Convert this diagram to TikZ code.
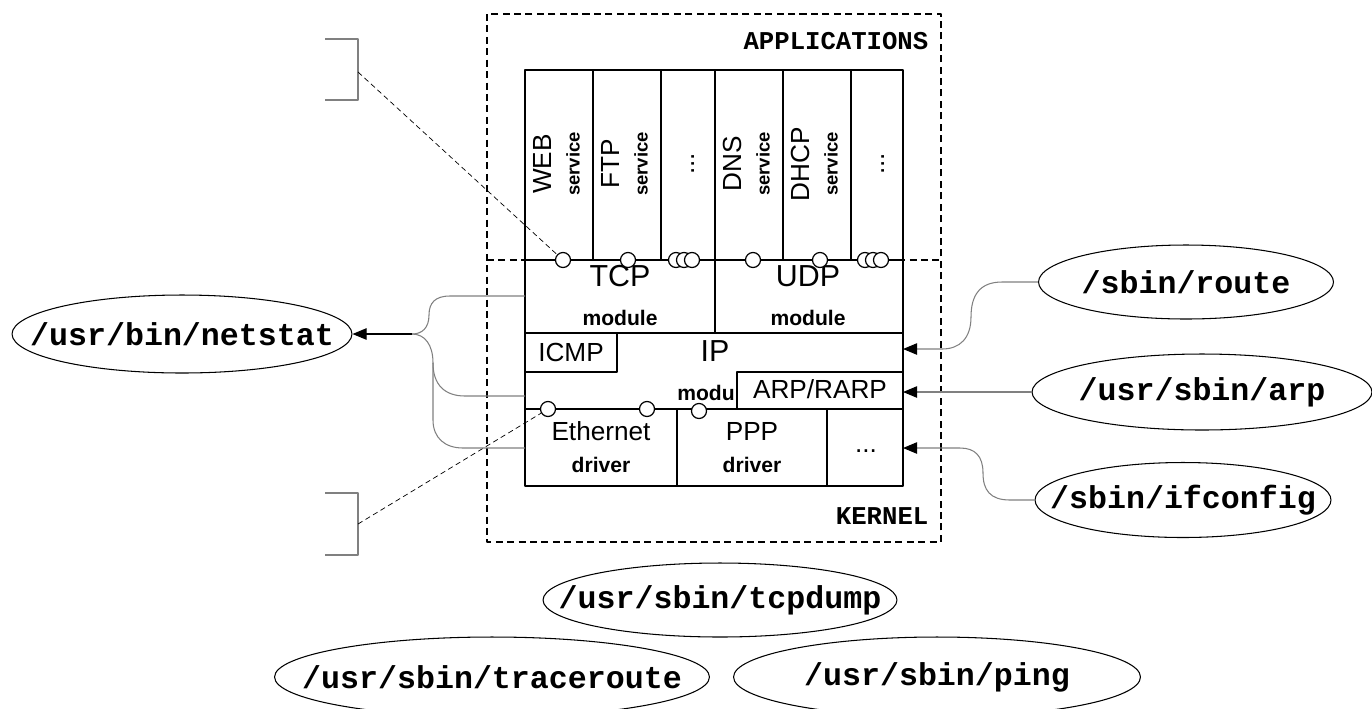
\documentclass[tikz,border=0pt]{standalone}
\usepackage{fontspec}
\setmainfont{Liberation Sans}
\setmonofont{Liberation Mono}
\usetikzlibrary{arrows.meta,shapes.geometric}
\tikzset{
	prog/.style={ellipse,draw,line width=0.6pt,inner sep=0pt,font=\fontsize{18}{20}\selectfont\ttfamily\bfseries},
	port/.style={circle,draw,fill=white,line width=0.7pt,inner sep=0pt,minimum size=0.3cm},
	big/.style={font=\fontsize{17.3}{19}\selectfont},
	mid/.style={font=\fontsize{14.9}{17}\selectfont},
	sub/.style={font=\fontsize{12}{14}\selectfont\bfseries},
	svc/.style={font=\fontsize{10.5}{12}\selectfont\bfseries},
	tag/.style={font=\fontsize{14.6}{16}\selectfont\ttfamily\bfseries,inner sep=0pt,anchor=base east},
	link/.style={draw=black!50,line width=0.6pt},
	tip/.style={-{Triangle[length=8pt,width=6.5pt,color=black]}},
	hint/.style={line width=0.4pt,dash pattern=on 3pt off 2pt},
}
\begin{document}
\begin{tikzpicture}[x=0.02cm,y=-0.02cm,line join=round,line width=0.8pt]
	\useasboundingbox (0,0) rectangle (1372,708);
	\def\yr{260} % duong ranh gioi ung dung / nhan
	\def\ys{409} % duong ranh gioi IP / driver
	% khung ngoai
	\draw[dash pattern=on 4pt off 2.5pt] (487,14) rectangle (941,542);
	\draw[dash pattern=on 4pt off 2.5pt] (487,\yr)--(941,\yr);
	\path (929,49) node[tag] (apps) {APPLICATIONS};
	\path (929,524) node[tag] (kern) {KERNEL};
	% cac dich vu
	\draw (525,70) rectangle (903,\yr);
	\foreach \x in {593,661,715,783,851}
		\draw (\x,70)--(\x,\yr);
	\foreach \x/\n in {525/WEB,593/FTP,715/DNS,783/DHCP}{
		\path (\x+17,164) node[mid,rotate=90] (v\n) {\n};
		\path (\x+48,164) node[svc,rotate=90] (s\n) {service};
	}
	\path (693,164) node[mid,rotate=90] (dotA) {...};
	\path (883,164) node[mid,rotate=90] (dotB) {...};
	% nhan
	\draw (525,\yr) rectangle (903,486);
	\draw (525,333)--(903,333) (525,\ys)--(903,\ys) (715,\yr)--(715,333);
	\draw (525,372)--(617,372)--(617,333);
	\draw (737,\ys)--(737,372)--(903,372);
	\draw (677,\ys)--(677,486) (827,\ys)--(827,486);
	\path (620,276) node[big] (tcp) {TCP};
	\path (620,318) node[sub] (tcpm) {module};
	\path (808,276) node[big] (udp) {UDP};
	\path (808,318) node[sub] (udpm) {module};
	\path (571,352) node[mid] (icmp) {ICMP};
	\path (715,351) node[big] (ip) {IP};
	\path (706,393) node[sub] (ipm) {modu};
	\path (820,389) node[mid] (arpbox) {ARP/RARP};
	\path (601,431) node[mid] (eth) {Ethernet};
	\path (601,465) node[sub] (ethd) {driver};
	\path (752,431) node[mid] (ppp) {PPP};
	\path (752,465) node[sub] (pppd) {driver};
	\path (866,451) node[mid] (dotC) {...};
	% cong ket noi
	\foreach \x/\n in {563/1,628/2,676/3,684/4,692/5,753/6,820/7,865/8,873/9,881/10}
		\node[port] (p\n) at (\x,\yr) {};
	\node[port] (q1) at (548,\ys) {};
	\node[port] (q2) at (647,\ys) {};
	\node[port] (q3) at (699,411) {};
	% chu thich ben trai
	\draw[black!50,line width=0.7pt] (325,39)--(358,39)--(358,100)--(325,100);
	\draw[black!50,line width=0.7pt] (325,493)--(358,493)--(358,555)--(325,555);
	\coordinate (b1) at (358,72);
	\coordinate (b2) at (358,524);
	\draw[hint] (b1)--(p1);
	\draw[hint] (b2)--(q1);
	% cac chuong trinh
	\node[prog,minimum width=6.8cm,minimum height=1.56cm] (netstat) at (182,334) {\makebox[0pt]{/usr/bin/netstat}};
	\node[prog,minimum width=5.9cm,minimum height=1.48cm] (route) at (1186,282) {\makebox[0pt]{/sbin/route}};
	\node[prog,minimum width=6.8cm,minimum height=1.52cm] (arp) at (1202,392) {\makebox[0pt]{/usr/sbin/arp}};
	\node[prog,minimum width=5.92cm,minimum height=1.5cm] (ifconfig) at (1183,500) {\makebox[0pt]{/sbin/ifconfig}};
	\node[prog,minimum width=7.08cm,minimum height=1.48cm] (tcpdump) at (720,600) {\makebox[0pt]{/usr/sbin/tcpdump}};
	\node[prog,minimum width=8.7cm,minimum height=1.6cm] (traceroute) at (492,677) {\makebox[0pt]{/usr/sbin/traceroute}};
	\node[prog,minimum width=8.14cm,minimum height=1.6cm] (ping) at (937,677) {\makebox[0pt]{/usr/sbin/ping}};
	% diem vao nhan
	\path (525,296) coordinate (tcpL)
	(525,396) coordinate (ipL)
	(525,448) coordinate (ethL)
	(903,349) coordinate (ipR)
	(903,392) coordinate (arpR)
	(903,448) coordinate (drvR)
	(412,334) coordinate (br);
	% duong noi
	\draw[link] (tcpL)--(450,296) .. controls (435,296) and (429,303) .. (429,315) .. controls (429,328) and (422,334) .. (br);
	\draw[link] (ipL)--(465,396) .. controls (445,396) and (433,385) .. (433,363) .. controls (433,345) and (425,334) .. (br);
	\draw[link] (ethL)--(463,448) .. controls (445,448) and (433,438) .. (433,420)--(433,363);
	\draw[line width=0.6pt,tip] (br)--(netstat);
	\draw[link,tip] (route.west)--(1002,282) .. controls (980,282) and (971,295) .. (971,317) .. controls (971,338) and (960,349) .. (942,349)--(ipR);
	\draw[link,tip] (arp.west)--(arpR);
	\draw[link,tip] (ifconfig.west)--(1010,500) .. controls (990,500) and (983,490) .. (983,473) .. controls (983,456) and (975,448) .. (960,448)--(drvR);
\end{tikzpicture}
\end{document}
